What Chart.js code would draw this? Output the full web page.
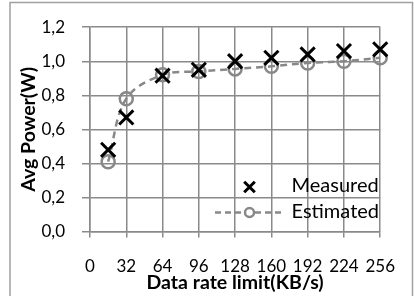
<!DOCTYPE html>
<html><head><meta charset="utf-8">
<script src="https://cdn.jsdelivr.net/npm/chart.js@4.4.1/dist/chart.umd.min.js"></script>
<style>html,body{margin:0;padding:0;background:#fff;}#wrap{width:414px;height:296px;position:relative}</style>
</head><body><div id="wrap"><canvas id="c" width="414" height="296"></canvas></div>
<script>
const rates = [16, 32, 64, 96, 128, 160, 192, 224, 256];
const measured = [0.48, 0.67, 0.915, 0.95, 1.0, 1.02, 1.04, 1.06, 1.07];
const estimated = [0.41, 0.78, 0.92, 0.94, 0.955, 0.97, 0.99, 1.0, 1.02];
const xTicks = [0, 32, 64, 96, 128, 160, 192, 224, 256];
const yTicks = [0, 0.2, 0.4, 0.6, 0.8, 1.0, 1.2];
const yTickLabels = ['0,0', '0,2', '0,4', '0,6', '0,8', '1,0', '1,2'];
const seriesNames = ['Measured', 'Estimated'];
const xTitle = 'Data rate limit(KB/s)';
const yTitle = 'Avg Power(W)';

const gridColor = '#8a8a8a';
const estColor = '#888888';
const FONT = 'Lato';

const frame = {
  id: 'frame',
  beforeDraw(chart) {
    const ctx = chart.ctx;
    ctx.save();
    ctx.strokeStyle = '#a0a0a0';
    ctx.lineWidth = 1.5;
    ctx.strokeRect(10, 2.5, 402.5, 310);
    ctx.restore();
  }
};

const customLegend = {
  id: 'customLegend',
  afterDraw(chart) {
    const ctx = chart.ctx;
    ctx.save();
    ctx.strokeStyle = '#000';
    ctx.lineWidth = 3;
    ctx.setLineDash([]);
    Chart.helpers.drawPoint(ctx, {pointStyle: 'crossRot', radius: 7.5, borderWidth: 3, rotation: 0}, 249.5, 187);
    ctx.fillStyle = '#000';
    ctx.font = '20px ' + FONT;
    ctx.textBaseline = 'middle';
    ctx.textAlign = 'left';
    ctx.fillText(seriesNames[0], 291.5, 186);
    ctx.strokeStyle = estColor;
    ctx.lineWidth = 2.5;
    ctx.setLineDash([6, 4]);
    ctx.beginPath();
    ctx.moveTo(215, 212.5);
    ctx.lineTo(285, 212.5);
    ctx.stroke();
    ctx.setLineDash([]);
    ctx.fillStyle = '#fff';
    Chart.helpers.drawPoint(ctx, {pointStyle: 'circle', radius: 4.5, borderWidth: 2.5, rotation: 0}, 249.5, 212.5);
    ctx.fillStyle = '#000';
    ctx.fillText(seriesNames[1], 291.5, 212);
    ctx.restore();
  }
};

new Chart(document.getElementById('c'), {
  type: 'line',
  data: {
    datasets: [
      {
        label: seriesNames[0],
        data: rates.map((x, i) => ({x, y: measured[i]})),
        showLine: false,
        pointStyle: 'crossRot',
        pointRadius: 10,
        pointBorderWidth: 3,
        pointBorderColor: '#000',
        pointBackgroundColor: '#000',
        borderColor: '#000',
        clip: false
      },
      {
        label: seriesNames[1],
        data: rates.map((x, i) => ({x, y: estimated[i]})),
        borderColor: estColor,
        borderWidth: 2.5,
        borderDash: [7, 5],
        tension: 0.35,
        pointStyle: 'circle',
        pointRadius: 6.5,
        pointBorderWidth: 2.5,
        pointBorderColor: estColor,
        pointBackgroundColor: 'rgba(0,0,0,0)',
        clip: false
      }
    ]
  },
  options: {
    responsive: false,
    devicePixelRatio: 1,
    animation: false,
    layout: {padding: {left: 10, right: 25, top: 16.7, bottom: 0}},
    plugins: {legend: {display: false}, tooltip: {enabled: false}},
    scales: {
      x: {
        type: 'linear', min: 0, max: 256,
        afterBuildTicks: s => { s.ticks = xTicks.map(v => ({value: v})); },
        afterFit: s => { s.height = 296 - 231.5; },
        ticks: {font: {family: FONT, size: 17}, color: '#000', padding: 19, maxRotation: 0, autoSkip: false},
        grid: {color: gridColor, lineWidth: 1.5, tickLength: 6},
        border: {color: gridColor, width: 1.5},
        title: {display: true, text: xTitle, color: '#000', font: {family: FONT, size: 19.5, weight: 'bold'}, padding: {top: 0, bottom: 2}}
      },
      y: {
        min: 0, max: 1.2,
        afterBuildTicks: s => { s.ticks = yTicks.map(v => ({value: v})); },
        afterFit: s => { s.width = 80; },
        ticks: {font: {family: FONT, size: 17}, color: '#000', padding: 17, callback: (v, i) => yTickLabels[i]},
        grid: {color: gridColor, lineWidth: 1.5, tickLength: 8},
        border: {color: gridColor, width: 1.5},
        title: {display: true, text: yTitle, color: '#000', font: {family: FONT, size: 19.5, weight: 'bold'}, padding: {top: 7, bottom: 0}}
      }
    }
  },
  plugins: [frame, customLegend]
});
</script>
</body></html>
